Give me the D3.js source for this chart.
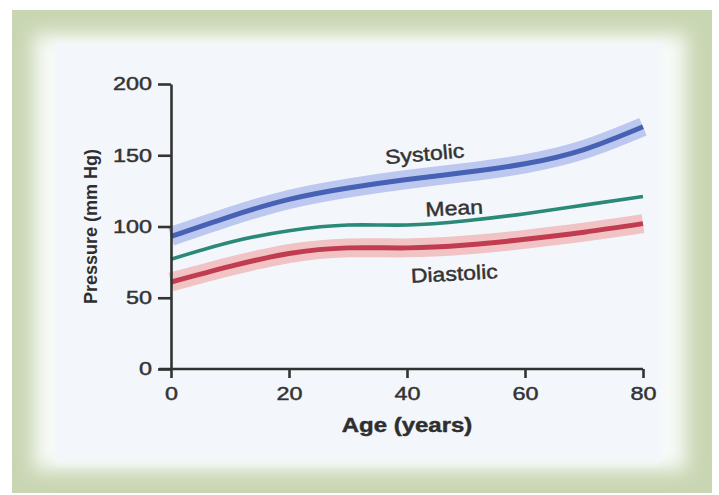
<!DOCTYPE html>
<html>
<head>
<meta charset="utf-8">
<script src="https://cdn.jsdelivr.net/npm/d3@7"></script>
<style>
    html, body { margin: 0; padding: 0; background: #ffffff; }
    svg { display: block; font-family: "Liberation Sans", Arial, sans-serif; }
    .axis path, .axis line { stroke: #333333; stroke-width: 2.6; }
    .axis text { fill: #333333; font-size: 18px; stroke: #333333; stroke-width: 0.45; }
    .label { stroke: #333333; stroke-width: 0.45; }
</style>
</head>
<body>
<svg id="svg" width="719" height="495"></svg>
<script>
// Data
const ages = [0, 10, 20, 30, 40, 50, 60, 70, 80]
const systolic = [93, 107, 119, 127, 133, 138, 144, 154, 170]
const mean = [77, 89, 97, 101, 101, 104, 109, 115, 121]
const diastolic = [61, 72, 81, 85, 85, 87, 91, 96, 102]
const xTicks = [0, 20, 40, 60, 80]
const yTicks = [0, 50, 100, 150, 200]
const seriesNames = ['Systolic', 'Mean', 'Diastolic']
const xTitle = 'Age (years)'
const yTitle = 'Pressure (mm Hg)'

const drawChart = () => {
    const width = 719
    const height = 495
    const margin = { top: 84, right: 76, bottom: 126, left: 171 }
    const stretch = 1.2 // source picture is stretched sideways
    const svg = d3.select('#svg')

    svg.selectAll('*').remove()

    // Frame and panel
    const defs = svg.append('defs')
    defs.append('filter').attr('id', 'soft')
        .attr('x', '-10%').attr('y', '-10%').attr('width', '120%').attr('height', '120%')
        .append('feGaussianBlur').attr('stdDeviation', 9)
    defs.append('filter').attr('id', 'soft2')
        .attr('x', '-10%').attr('y', '-10%').attr('width', '120%').attr('height', '120%')
        .append('feGaussianBlur').attr('stdDeviation', 3)

    svg.append('rect')
        .attr('x', 12).attr('y', 10).attr('width', 700).attr('height', 483)
        .attr('fill', '#c9d6b3')
    svg.append('rect')
        .attr('x', 34).attr('y', 34).attr('width', 652).attr('height', 436)
        .attr('fill', '#f8faf7').attr('filter', 'url(#soft)')
    svg.append('rect')
        .attr('x', 54).attr('y', 42).attr('width', 608).attr('height', 422)
        .attr('fill', '#f3f7fb').attr('filter', 'url(#soft2)')

    // Scales
    const xScale = d3.scaleLinear()
        .domain([0, 80])
        .range([margin.left, width - margin.right])

    const yScale = d3.scaleLinear()
        .domain([0, 200])
        .range([height - margin.bottom, margin.top])

    const line = (values) => d3.line()
        .x((d, i) => xScale(ages[i]))
        .y((d) => yScale(d))
        .curve(d3.curveNatural)(values)

    // Bands + lines
    const curves = svg.append('g').attr('class', 'curves')

    curves.append('path')
        .attr('d', line(systolic))
        .attr('fill', 'none')
        .attr('stroke', '#bcc8ef')
        .attr('stroke-width', 19)
    curves.append('path')
        .attr('d', line(diastolic))
        .attr('fill', 'none')
        .attr('stroke', '#f1c3c5')
        .attr('stroke-width', 19)

    curves.append('path')
        .attr('d', line(systolic))
        .attr('fill', 'none')
        .attr('stroke', '#4762b4')
        .attr('stroke-width', 5)
    curves.append('path')
        .attr('d', line(mean))
        .attr('fill', 'none')
        .attr('stroke', '#2b8977')
        .attr('stroke-width', 3.6)
    curves.append('path')
        .attr('d', line(diastolic))
        .attr('fill', 'none')
        .attr('stroke', '#c23c50')
        .attr('stroke-width', 5)

    // Axis
    svg.append('g')
        .attr('class', 'axis')
        .attr('transform', `translate(0,${yScale(0)})`)
        .call(
            d3.axisBottom(xScale)
                .tickValues(xTicks)
                .tickSize(9)
                .tickSizeOuter(0)
                .tickPadding(9)
        )
        .call((g) => g.select('.domain').attr('d', `M${xScale(0) - 12},0H${xScale(80)}`))
        .call((g) => g.selectAll('text').attr('transform', `scale(1.3,1)`))

    svg.append('g')
        .attr('class', 'axis')
        .attr('transform', `translate(${xScale(0)},0)`)
        .call(
            d3.axisLeft(yScale)
                .tickValues(yTicks)
                .tickSize(13)
                .tickSizeOuter(0)
                .tickPadding(6)
        )
        .call((g) => g.selectAll('text')
            .attr('x', 0)
            .attr('transform', `translate(-19,0) scale(1.3,1)`))

    // Titles
    svg.append('text')
        .attr('class', 'label')
        .attr('transform', `translate(${xScale(40)},432) scale(${stretch},1)`)
        .attr('text-anchor', 'middle')
        .attr('font-weight', 'bold')
        .attr('font-size', 20)
        .attr('fill', '#2e2e2e')
        .text(xTitle)

    svg.append('text')
        .attr('transform', `translate(97,${yScale(100)}) rotate(-90)`)
        .attr('text-anchor', 'middle')
        .attr('font-weight', 'bold')
        .attr('font-size', 18)
        .attr('fill', '#2e2e2e')
        .text(yTitle)

    // Curve labels
    const labelSpots = [
        { age: 43, value: 151, angle: -5 },
        { age: 48, value: 113, angle: -3 },
        { age: 48, value: 67, angle: -3 },
    ]
    seriesNames.forEach((name, i) => {
        const spot = labelSpots[i]
        svg.append('text')
            .attr('class', 'label')
            .attr('transform', `translate(${xScale(spot.age)},${yScale(spot.value)}) rotate(${spot.angle}) scale(1.15,1)`)
            .attr('text-anchor', 'middle')
            .attr('dy', '0.35em')
            .attr('font-size', 20)
            .attr('fill', '#333')
            .text(name)
    })
}

drawChart()
</script>
</body>
</html>
